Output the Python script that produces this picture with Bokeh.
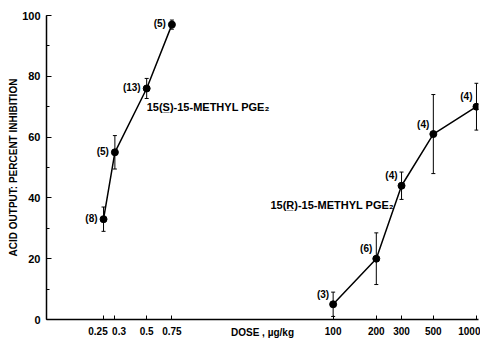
from bokeh.plotting import figure
from bokeh.models import (Range1d, FixedTicker, SingleIntervalTicker, ColumnDataSource,
                          Whisker, TeeHead, Label)
from bokeh.core.properties import value
from bokeh.embed import file_html
from bokeh.resources import INLINE

# ---- data ----
s_dose = [0.25, 0.3, 0.5, 0.75]
s_mean = [33, 55, 76, 97]
s_err = [4, 5.5, 3.3, 1.5]
s_n = [8, 5, 13, 5]

r_dose = [100, 200, 300, 500, 1000]
r_mean = [5, 20, 44, 61, 70]
r_err = [4, 8.5, 4.5, 13, 7.7]
r_n = [3, 6, 4, 4, 4]

tick_doses = [0.25, 0.3, 0.5, 0.75, 100, 200, 300, 500, 1000]
tick_labels = ["0.25", "0.3", "0.5", "0.75", "100", "200", "300", "500", "1000"]

# broken dose axis: the high-dose group is drawn one decade to the left
BREAK = 10.0
def pos(d):
    return d if d < 10 else d / BREAK

FONT = "Liberation Sans"
NB = "\u00a0"

p = figure(width=480, height=340, x_axis_type="log",
           x_range=Range1d(0.1, 103.3), y_range=Range1d(0, 100),
           output_backend="svg", toolbar_location=None,
           min_border_left=46, min_border_right=2, min_border_top=15, min_border_bottom=20)
p.outline_line_color = None
p.grid.visible = False
p.background_fill_color = "white"

def add_series(dose, mean, err, n, xo, yo):
    xs = [pos(d) for d in dose]
    src = ColumnDataSource(dict(x=xs, y=mean,
                                lo=[m - e for m, e in zip(mean, err)],
                                hi=[m + e for m, e in zip(mean, err)],
                                n=["(%d)" % k for k in n]))
    p.line("x", "y", source=src, line_color="black", line_width=1.5)
    w = Whisker(base="x", lower="lo", upper="hi", source=src, dimension="height",
                line_color="black", line_width=1,
                upper_head=TeeHead(size=4, line_color="black", line_width=1),
                lower_head=TeeHead(size=4, line_color="black", line_width=1))
    p.add_layout(w)
    p.scatter("x", "y", source=src, size=7, color="black")
    p.text("x", "y", text="n", source=src, x_offset=xo, y_offset=yo,
           text_align="right", text_baseline="middle",
           text_font=value(FONT), text_font_style="bold", text_font_size="10px",
           text_color="black")

add_series(s_dose, s_mean, s_err, s_n, -6, -1)
add_series(r_dose, r_mean, r_err, r_n, -4, -10)

p.add_layout(Label(x=0.5, y=70, text="15(S\u0332)-15-METHYL PGE\u2082",
                   text_baseline="middle", text_font=FONT, text_font_style="bold",
                   text_font_size="11px", text_color="black"))
p.add_layout(Label(x=3.65, y=37.7, text="15(R\u0332)-15-METHYL PGE\u2082",
                   text_baseline="middle", text_font=FONT, text_font_style="bold",
                   text_font_size="11px", text_color="black"))

# x axis
xa = p.xaxis[0]
xa.ticker = FixedTicker(ticks=[pos(d) for d in tick_doses], minor_ticks=[])
overrides = {pos(d): lab for d, lab in zip(tick_doses, tick_labels)}
overrides[pos(0.25)] = "0.25" + NB * 4
overrides[pos(0.3)] = NB * 3 + "0.3"
xa.major_label_overrides = overrides
xa.major_tick_in = 4
xa.major_tick_out = 0
xa.minor_tick_line_color = None
xa.major_label_standoff = 6
xa.axis_label = "DOSE , \u00b5g/kg"
xa.axis_label_standoff = -13
xa.axis_label_text_font = FONT
xa.axis_label_text_font_style = "bold"
xa.axis_label_text_font_size = "10px"
xa.axis_label_text_color = "black"

# y axis
ya = p.yaxis[0]
ya.ticker = SingleIntervalTicker(interval=20, num_minor_ticks=2)
ya.major_tick_in = 5
ya.major_tick_out = 0
ya.minor_tick_in = 3
ya.minor_tick_out = 0
ya.major_label_standoff = 6
ya.axis_label = "ACID OUTPUT: PERCENT INHIBITION"
ya.axis_label_standoff = 0

for ax in (xa, ya):
    ax.axis_line_width = 1.5
    ax.axis_line_color = "black"
    ax.major_tick_line_color = "black"
    ax.major_label_text_font = FONT
    ax.major_label_text_font_style = "bold"
    ax.major_label_text_font_size = "10px"
    ax.major_label_text_color = "black"
ya.major_label_text_font_size = "11px"
ya.axis_label_text_font = FONT
ya.axis_label_text_font_style = "bold"
ya.axis_label_text_font_size = "10px"
ya.axis_label_text_color = "black"

open("out.html", "w").write(file_html(p, INLINE))
